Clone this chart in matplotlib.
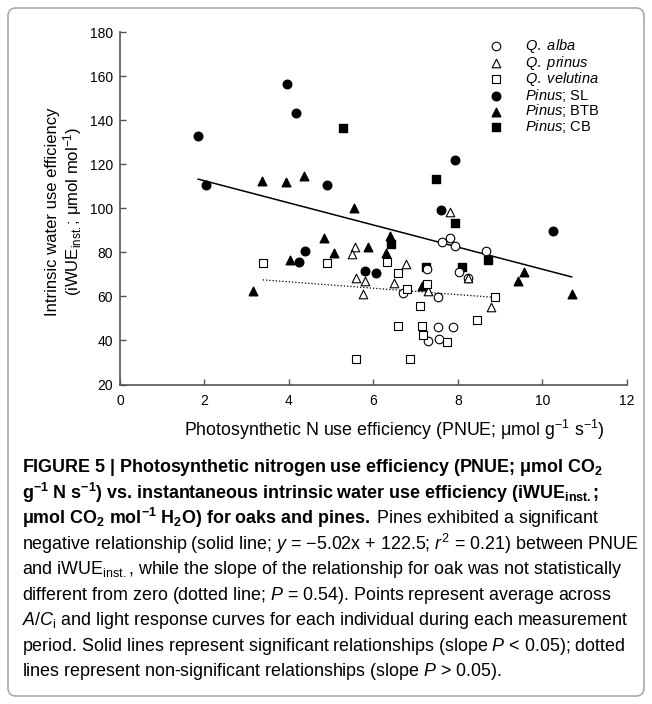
import matplotlib
matplotlib.use('Agg')
import matplotlib.pyplot as plt
from matplotlib.patches import FancyBboxPatch

plt.rcParams['font.family'] = 'Liberation Sans'
plt.rcParams['mathtext.fontset'] = 'custom'
plt.rcParams['mathtext.rm'] = 'Liberation Sans'
plt.rcParams['mathtext.it'] = 'Liberation Sans:italic'
plt.rcParams['mathtext.bf'] = 'Liberation Sans:bold'

# oaks (open symbols)
alba_x = [7.61, 7.80, 7.94, 8.66, 7.26, 8.02, 8.24, 6.70, 7.52, 7.53, 7.88, 7.30, 7.55]
alba_y = [84.5, 86.5, 83.0, 80.8, 72.4, 71.0, 68.3, 61.5, 59.6, 46.1, 46.3, 39.9, 40.8]
prinus_x = [5.56, 5.50, 5.58, 5.80, 5.74, 6.76, 6.49, 7.30, 8.24, 8.77, 7.82]
prinus_y = [82.6, 79.2, 68.5, 67.0, 61.1, 74.6, 66.0, 62.6, 68.3, 55.4, 98.1]
velutina_x = [3.38, 4.91, 6.31, 6.59, 6.80, 7.26, 7.10, 6.59, 7.15, 7.18, 7.74, 8.45, 8.87, 5.58, 6.86]
velutina_y = [75.1, 75.1, 75.4, 70.5, 63.3, 65.7, 55.7, 46.7, 46.5, 42.5, 39.5, 49.3, 59.5, 31.6, 31.6]

# pines (filled symbols)
sl_x = [1.85, 2.04, 3.95, 4.17, 4.91, 4.38, 4.23, 5.80, 6.05, 7.60, 7.93, 10.26]
sl_y = [133.0, 110.4, 156.6, 143.1, 110.7, 80.4, 75.5, 71.6, 70.4, 99.0, 121.9, 89.9]
btb_x = [3.14, 3.37, 3.92, 4.36, 4.03, 4.82, 5.07, 5.54, 5.86, 6.30, 6.38, 7.15, 9.43, 9.56, 10.69]
btb_y = [62.6, 112.5, 111.7, 114.5, 76.6, 86.4, 79.6, 100.1, 82.6, 79.6, 87.2, 64.9, 67.0, 71.0, 61.1]
cb_x = [5.28, 7.49, 7.92, 6.41, 7.24, 8.10, 8.71]
cb_y = [136.3, 113.1, 93.5, 83.9, 73.3, 73.3, 76.3]

# regression lines
pine_slope, pine_int = -5.02, 122.5
oak_slope, oak_int = -1.45, 72.4

fig = plt.figure(figsize=(6.52, 7.04), dpi=100)
ax = fig.add_axes([120/652, 1-384.5/704, 507/652, 352.5/704])

ms = 38
ax.scatter(sl_x, sl_y, s=ms, marker='o', c='black', label='$\\mathit{Pinus}$; SL', zorder=3)
ax.scatter(btb_x, btb_y, s=ms, marker='^', c='black', label='$\\mathit{Pinus}$; BTB', zorder=3)
ax.scatter(cb_x, cb_y, s=ms*0.85, marker='s', c='black', label='$\\mathit{Pinus}$; CB', zorder=3)
ax.scatter(alba_x, alba_y, s=ms, marker='o', facecolors='white', edgecolors='black', linewidths=0.8,
           label='$\\mathit{Q.\\ alba}$', zorder=4)
ax.scatter(prinus_x, prinus_y, s=ms, marker='^', facecolors='white', edgecolors='black', linewidths=0.8,
           label='$\\mathit{Q.\\ prinus}$', zorder=4)
ax.scatter(velutina_x, velutina_y, s=ms*0.85, marker='s', facecolors='white', edgecolors='black', linewidths=0.8,
           label='$\\mathit{Q.\\ velutina}$', zorder=4)

px = [min(sl_x + btb_x + cb_x), max(sl_x + btb_x + cb_x)]
ax.plot(px, [pine_slope*v + pine_int for v in px], color='black', lw=1.1, zorder=2)
ox = [min(alba_x + prinus_x + velutina_x), max(alba_x + prinus_x + velutina_x)]
ax.plot(ox, [oak_slope*v + oak_int for v in ox], color='black', lw=0.9, ls=(0, (1, 1.6)), zorder=2)

ax.set_xlim(0, 12)
ax.set_ylim(20, 180)
ax.set_xticks(range(0, 13, 2))
ax.set_yticks(range(20, 181, 20))
for s in ['top', 'right']:
    ax.spines[s].set_visible(False)
for s in ['left', 'bottom']:
    ax.spines[s].set_color('#555555')
    ax.spines[s].set_linewidth(1.2)
ax.tick_params(direction='in', length=4, width=1, color='#555555', labelsize=10)
ax.tick_params(axis='x', pad=7)
ax.tick_params(axis='y', pad=5)

ax.set_xlabel('Photosynthetic N use efficiency (PNUE; μmol g$^{-1}$ s$^{-1}$)', fontsize=12.8)
ax.xaxis.set_label_coords(0.542, -0.095)
ax.set_ylabel('Intrinsic water use efficiency\n(iWUE$_{\\mathrm{inst.}}$; μmol mol$^{-1}$)',
              fontsize=12, linespacing=1.05)
ax.yaxis.set_label_coords(-0.071, 0.49)

h, l = ax.get_legend_handles_labels()
order = [3, 4, 5, 0, 1, 2]
ax.legend([h[i] for i in order], [l[i] for i in order], loc='upper left',
          bbox_to_anchor=(0.712, 1.006), frameon=False, fontsize=10.5,
          handlelength=1.0, handletextpad=1.5, labelspacing=-0.1, borderpad=0)

# caption
lines = [
    ('FIGURE 5 | Photosynthetic nitrogen use efficiency (PNUE; μmol $\\mathbf{CO_2}$', 'bold'),
    ('$\\mathbf{g^{-1}}$ N $\\mathbf{s^{-1}}$) vs. instantaneous intrinsic water use efficiency (iWUE$\\mathbf{_{inst.}}$;', 'bold'),
    ('$\\mathbf{\\mu mol\\ CO_2\\ mol^{-1}\\ H_2O)\\ for\\ oaks\\ and\\ pines.}$ Pines exhibited a significant', 'normal'),
    ('negative relationship (solid line; $y$ = −5.02x + 122.5; $r^2$ = 0.21) between PNUE', 'normal'),
    ('and iWUE$_{\\mathrm{inst.}}$, while the slope of the relationship for oak was not statistically', 'normal'),
    ('different from zero (dotted line; $P$ = 0.54). Points represent average across', 'normal'),
    ('$A/C_\\mathrm{i}$ and light response curves for each individual during each measurement', 'normal'),
    ('period. Solid lines represent significant relationships (slope $P$ < 0.05); dotted', 'normal'),
    ('lines represent non-significant relationships (slope $P$ > 0.05).', 'normal'),
]
y0 = 467
for i, (txt, w) in enumerate(lines):
    fig.text(22/652, 1 - (y0 + i*25.6)/704, txt, fontsize=12.9,
             fontweight=w, va='center', ha='left')

frame = FancyBboxPatch((0.08, 0.08), 6.36, 6.88, boxstyle='round,pad=0,rounding_size=0.08',
                       transform=fig.dpi_scale_trans, fill=False, edgecolor='#aaaaaa', lw=1.2)
fig.patches.append(frame)

fig.savefig('out.png', dpi=100)
